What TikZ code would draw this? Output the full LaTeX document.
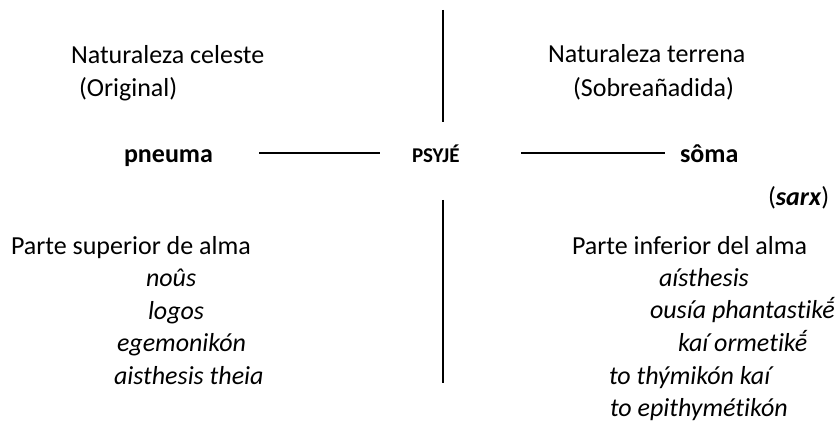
\documentclass[tikz,border=0pt]{standalone}
\usepackage{fontspec}
\setmainfont{Carlito}[Ligatures=CommonOff]
\usetikzlibrary{positioning}
\definecolor{psyInk}{HTML}{000000}
\tikzset{
  every picture/.style={font=\fontsize{26}{32}\selectfont, text=psyInk},
  psy label/.style={anchor=base west, inner sep=0pt, outer sep=0pt},
  psy term/.style={psy label, font=\fontsize{26}{32}\selectfont\itshape},
  psy pole/.style={psy label, font=\fontsize{26}{32}\selectfont\bfseries},
  psy center/.style={psy label, font=\fontsize{21}{25}\selectfont\bfseries},
  psy rule/.style={draw=psyInk, line width=1.5pt}
}
\begin{document}
\begin{tikzpicture}[x=1pt,y=-1pt]
  \useasboundingbox (0,0) rectangle (840,422);
  \coordinate (vtop) at (443,10);  \coordinate (vmid) at (443,122);
  \coordinate (vlow) at (443,200); \coordinate (vbot) at (443,383);
  \coordinate (hl1) at (259,153); \coordinate (hl2) at (380,153);
  \coordinate (hr1) at (521,153); \coordinate (hr2) at (665,153);
  \node[psy label] (celeste) at (71,64) {Naturaleza celeste};
  \node[psy label] (original) at (79,97) {(Original)};
  \node[psy label] (terrena) at (548,63) {Naturaleza terrena};
  \node[psy label] (sobre) at (573,97) {(Sobreañadida)};
  \node[psy pole] (pneuma) at (124,163) {pneuma};
  \node[psy center] (psyje) at (412,163) {PSYJÉ};
  \node[psy pole] (soma) at (680,163) {sôma};
  \node[psy label] (sarx) at (768,205) {(\textbf{\textit{sarx}})};
  \node[psy label] (superior) at (11,254) {Parte superior de alma};
  \node[psy term] (nous) at (146,286) {noûs};
  \node[psy term] (logos) at (148,319) {logos};
  \node[psy term] (egemon) at (117,351) {egemonikón};
  \node[psy term] (theia) at (114,384) {aisthesis theia};
  \node[psy label] (inferior) at (572,254) {Parte inferior del alma};
  \node[psy term] (aisth) at (659,286) {aísthesis};
  \node[psy term] (ousia) at (650,318) {ousía phantastikḗ};
  \node[psy term] (kai) at (678,351) {kaí ormetikḗ};
  \node[psy term] (thym) at (609,384) {to thýmikón kaí};
  \node[psy term] (epith) at (610,416) {to epithymétikón};
  \draw[psy rule] (vtop) -- (vmid);
  \draw[psy rule] (vlow) -- (vbot);
  \draw[psy rule] (hl1) -- (hl2);
  \draw[psy rule] (hr1) -- (hr2);
\end{tikzpicture}
\end{document}
